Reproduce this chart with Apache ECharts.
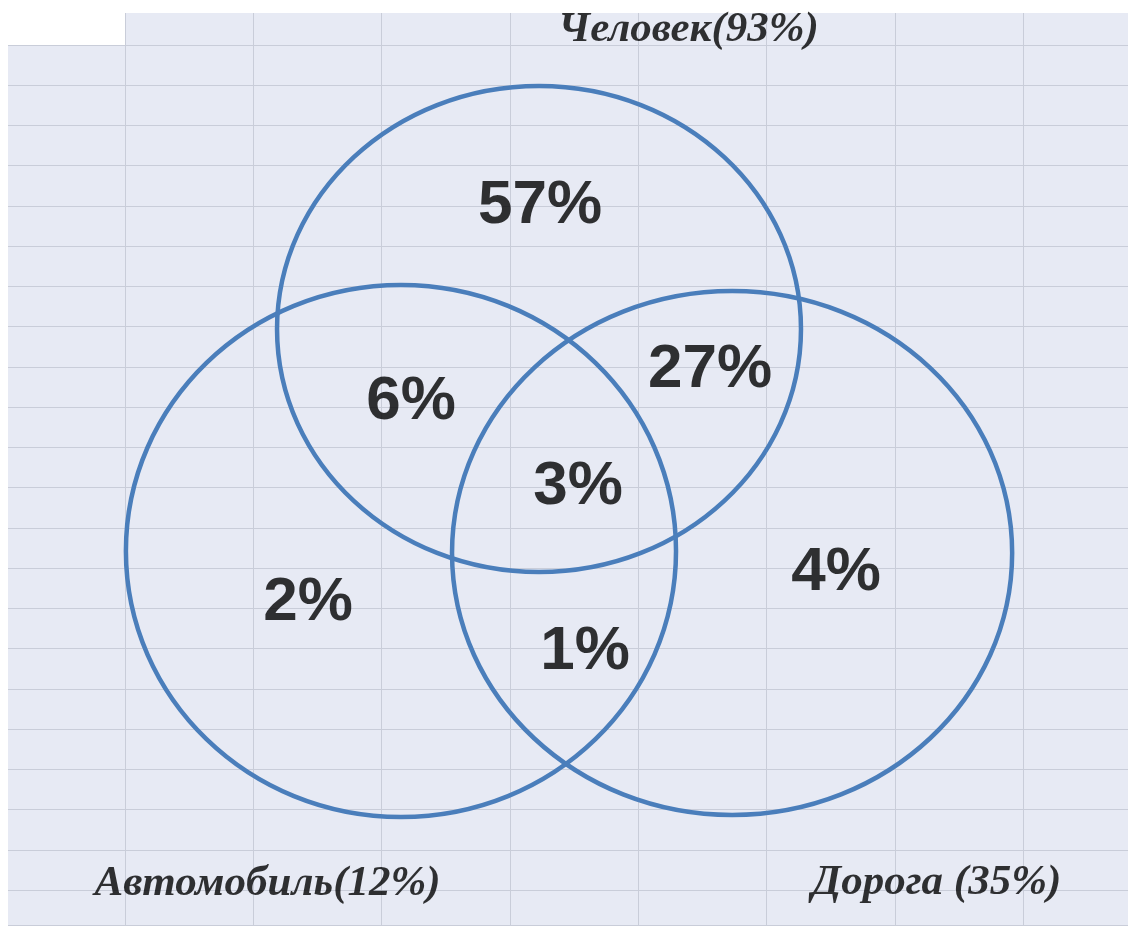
<!DOCTYPE html>
<html>
<head>
<meta charset="utf-8">
<script src="https://cdn.jsdelivr.net/npm/echarts@6/dist/echarts.min.js"></script>
<style>
  html, body { margin: 0; padding: 0; background: #fff; }
  #venn { width: 1128px; height: 927px; }
</style>
</head>
<body>
<div id="venn"></div>
<script>
// sets and their shares
const setNames = ['Человек', 'Автомобиль', 'Дорога'];
const setShares = [93, 12, 35];
// region values (%): only Ч, Ч+А, Ч+Д, all three, only А, only Д, А+Д
const regionNames = ['Ч', 'ЧА', 'ЧД', 'ЧАД', 'А', 'Д', 'АД'];
const regionValues = [57, 6, 27, 3, 2, 4, 1];

// layout in sheet cells (x = columns, y = rows counted downward)
const circleLayout = [
    [3.227, 7.058, 2.042, 6.04],   // Человек
    [2.151, 12.575, 2.144, 6.61],  // Автомобиль
    [4.732, 12.625, 2.183, 6.51]   // Дорога
];
const regionPos = [
    [3.235, 4.01], [2.229, 8.87], [4.56, 8.08], [3.531, 10.98],
    [1.427, 13.87], [5.542, 13.12], [3.586, 15.09]
];
const setLabelPos = [[4.392, -0.37], [1.111, 20.85], [6.326, 20.83]];
const setSep = ['', '', ' '];

var chartDom = document.getElementById('venn');
var myChart = echarts.init(chartDom);

const circleData = circleLayout.map((c, i) => ({ name: setNames[i], value: c }));
const regionData = regionValues.map((v, i) => ({
    name: regionNames[i], value: [regionPos[i][0], regionPos[i][1], v]
}));
const setData = setNames.map((n, i) => ({
    name: n + setSep[i], value: [setLabelPos[i][0], setLabelPos[i][1], setShares[i]]
}));

const sheetBg = '#e7eaf4';
const sheetLine = '#c9cdd9';
const hidden = {
    axisLine: { show: false },
    axisTick: { show: false },
    axisLabel: { show: false }
};

var option = {
    animation: false,
    backgroundColor: '#ffffff',
    grid: [
        // columns part of the sheet
        { show: true, left: 125, top: 13, right: 0, bottom: 2, backgroundColor: sheetBg, borderWidth: 0 },
        // rows part of the sheet, also holds the diagram
        { show: true, left: 8, top: 45, right: 0, bottom: 2, backgroundColor: sheetBg, borderWidth: 0 }
    ],
    xAxis: [
        Object.assign({
            type: 'value', gridIndex: 0, min: 0, max: 7.818, interval: 1,
            splitLine: { lineStyle: { color: sheetLine, width: 1 } }
        }, hidden),
        Object.assign({
            type: 'value', gridIndex: 1, min: -0.912, max: 7.818,
            splitLine: { show: false }
        }, hidden)
    ],
    yAxis: [
        Object.assign({
            type: 'value', gridIndex: 0, min: 0, max: 1,
            splitLine: { show: false }
        }, hidden),
        Object.assign({
            type: 'value', gridIndex: 1, inverse: true, min: 0, max: 21.869, interval: 1,
            splitLine: { lineStyle: { color: sheetLine, width: 1 } }
        }, hidden)
    ],
    series: [
        {
            name: 'circles',
            type: 'custom',
            xAxisIndex: 1,
            yAxisIndex: 1,
            clip: false,
            z: 3,
            data: circleData,
            renderItem: function (params, api) {
                const c = api.coord([api.value(0), api.value(1)]);
                const s = api.size([api.value(2), api.value(3)]);
                return {
                    type: 'ellipse',
                    shape: { cx: c[0], cy: c[1], rx: s[0], ry: s[1] },
                    style: { fill: 'none', stroke: '#4a7ebb', lineWidth: 4.5 }
                };
            }
        },
        {
            name: 'regions',
            type: 'scatter',
            xAxisIndex: 1,
            yAxisIndex: 1,
            clip: false,
            z: 10,
            symbolSize: 0,
            data: regionData,
            label: {
                show: true,
                position: 'inside',
                formatter: p => p.value[2] + '%',
                fontFamily: 'Liberation Sans',
                fontWeight: 'bold',
                fontSize: 62,
                color: '#000'
            }
        },
        {
            name: 'sets',
            type: 'scatter',
            xAxisIndex: 1,
            yAxisIndex: 1,
            clip: false,
            z: 10,
            symbolSize: 0,
            data: setData,
            label: {
                show: true,
                position: 'inside',
                formatter: p => p.name + '(' + p.value[2] + '%)',
                fontFamily: 'Liberation Serif',
                fontStyle: 'italic',
                fontWeight: 'bold',
                fontSize: 43,
                color: '#000'
            }
        }
    ]
};

option && myChart.setOption(option);
</script>
</body>
</html>
